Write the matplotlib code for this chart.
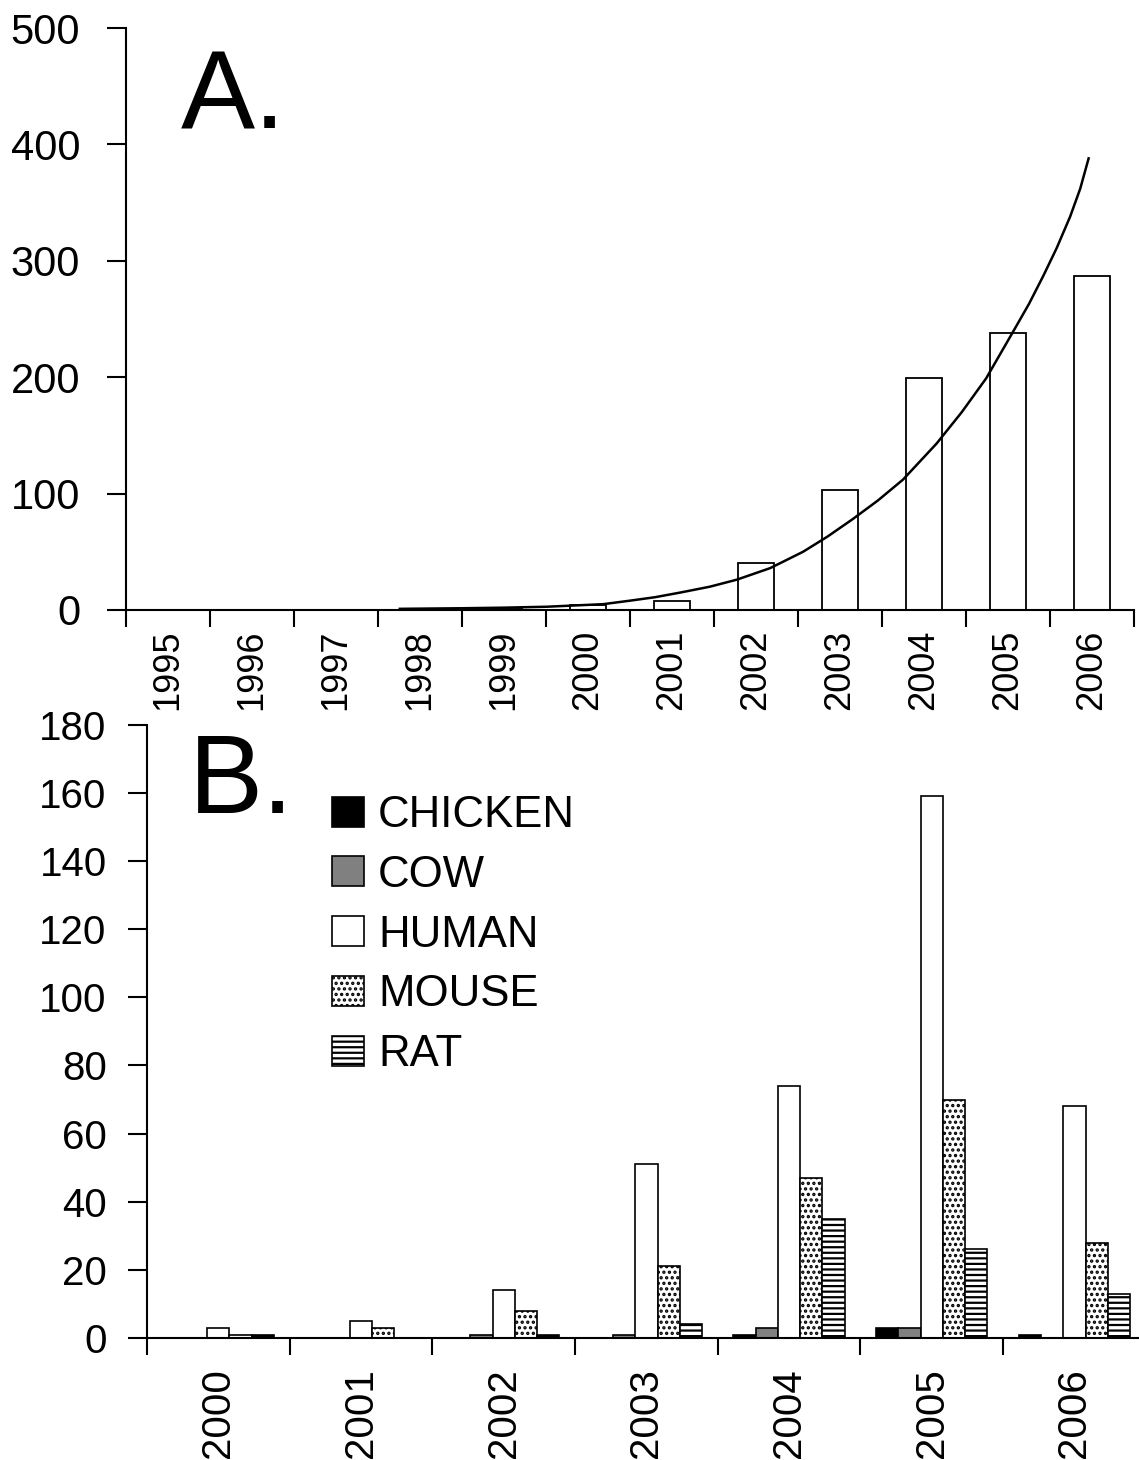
import matplotlib
matplotlib.use('Agg')
import matplotlib.pyplot as plt
from matplotlib.patches import Patch
import numpy as np

plt.rcParams['font.family'] = ['Liberation Sans', 'DejaVu Sans']
plt.rcParams['hatch.linewidth'] = 1.6

# panel A: total per year, plus the trend curve
years_a = ['1995', '1996', '1997', '1998', '1999', '2000', '2001',
           '2002', '2003', '2004', '2005', '2006']
total_a = [0, 0, 0, 1, 2, 4, 8, 40, 103, 199, 238, 287]
trend_pos = [1997.76, 1998.5, 1999.0, 1999.51, 2000.18, 2000.5, 2000.8,
             2001.1, 2001.45, 2001.77, 2002.17, 2002.56, 2002.85, 2003.15,
             2003.45, 2003.75, 2004.15, 2004.45, 2004.74, 2005.06, 2005.25,
             2005.42, 2005.58, 2005.74, 2005.86, 2005.96]
trend_vals = [1, 1.5, 2, 2.8, 5, 8, 11, 15, 20, 26, 36, 50, 63, 78,
              94, 112, 143, 170, 199, 239, 263, 287, 311, 338, 362, 388]

# panel B: per species
years_b = ['2000', '2001', '2002', '2003', '2004', '2005', '2006']
species = ['CHICKEN', 'COW', 'HUMAN', 'MOUSE', 'RAT']
chicken = [0, 0, 0, 0, 1, 3, 1]
cow = [0, 0, 1, 1, 3, 3, 0]
human = [3, 5, 14, 51, 74, 159, 68]
mouse = [1, 3, 8, 21, 47, 70, 28]
rat = [1, 0, 1, 4, 35, 26, 13]

styles = {
    'CHICKEN': dict(facecolor='black', hatch=None),
    'COW': dict(facecolor='#808080', hatch=None),
    'HUMAN': dict(facecolor='white', hatch=None),
    'MOUSE': dict(facecolor='white', hatch='...'),
    'RAT': dict(facecolor='white', hatch='---'),
}

fig = plt.figure(figsize=(11.39, 14.60), dpi=100)


def style_axes(ax, ncat, ypad, ysize):
    for s in ['top', 'right']:
        ax.spines[s].set_visible(False)
    for s in ['left', 'bottom']:
        ax.spines[s].set_linewidth(1.5)
    ax.set_xlim(-0.5, ncat - 0.5)
    ax.set_xticks(np.arange(ncat + 1) - 0.5)
    ax.set_xticklabels([])
    ax.tick_params(axis='x', which='major', length=12, width=1.5, direction='out')
    ax.tick_params(axis='y', length=14, width=1.5, direction='out',
                   labelsize=ysize, pad=ypad)


# ---- A ----
ax1 = fig.add_axes([0.1106, 0.5822, 0.885, 0.3986])
xa = np.arange(len(years_a))
ax1.bar(xa, total_a, width=0.42, color='white', edgecolor='black', linewidth=1.3)
ax1.set_ylim(0, 500)
ax1.set_yticks([0, 100, 200, 300, 400, 500])
style_axes(ax1, len(years_a), 19, 30)
ax1.set_xticks(xa, minor=True)
ax1.set_xticklabels(years_a, minor=True, rotation=90, fontsize=26)
ax1.tick_params(axis='x', which='minor', length=0, pad=14)

tx = np.array(trend_pos) - int(years_a[0])
ax1.plot(tx, trend_vals, color='black', linewidth=1.8, solid_joinstyle='round')

fig.text(0.159, 0.9123, 'A.', fontsize=80, va='baseline', ha='left')

# ---- B ----
ax2 = fig.add_axes([0.129, 0.0836, 0.877, 0.4199])
xb = np.arange(len(years_b))
w = 0.156
series = [chicken, cow, human, mouse, rat]
for i, (name, vals) in enumerate(zip(species, series)):
    st = styles[name]
    ax2.bar(xb + (i - 2) * w, vals, width=w, color=st['facecolor'],
            hatch=st['hatch'], edgecolor='black', linewidth=1.2)
ax2.set_ylim(0, 180)
ax2.set_yticks(np.arange(0, 181, 20))
style_axes(ax2, len(years_b), 15, 29)
ax2.set_xticks(xb, minor=True)
ax2.set_xticklabels(years_b, minor=True, rotation=90, fontsize=29)
ax2.tick_params(axis='x', which='minor', length=0, pad=22)

handles = [Patch(facecolor=styles[n]['facecolor'], hatch=styles[n]['hatch'],
                 edgecolor='black', linewidth=1.2, label=n) for n in species]
fig.legend(handles=handles, loc='upper left', bbox_to_anchor=(0.2915, 0.4555),
           frameon=False, fontsize=31.5, handlelength=0.73, handleheight=0.68,
           handletextpad=0.32, labelspacing=0.43, borderpad=0, borderaxespad=0)

fig.text(0.166, 0.4432, 'B.', fontsize=80, va='baseline', ha='left')

fig.savefig('out.png', dpi=100)
